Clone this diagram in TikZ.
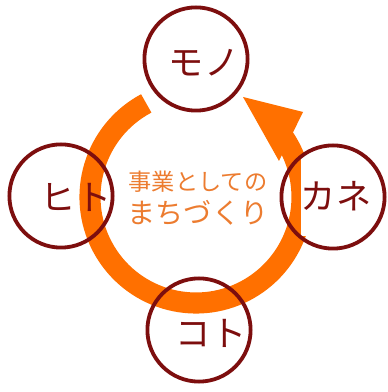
\documentclass[tikz,border=0pt]{standalone}
\usepackage{fontspec}
\usepackage{tikz}
\newfontfamily\jpfont{Noto Sans CJK JP}
\definecolor{ringred}{RGB}{125,14,14}
\definecolor{bandorange}{RGB}{255,112,0}
\definecolor{textorange}{RGB}{236,124,48}

\begin{document}
\begin{tikzpicture}[x=0.25mm, y=0.25mm,
		ring/.style={circle, draw=ringred, line width=2.7pt, minimum size=25.8mm, inner sep=0pt},
		kana/.style={font=\jpfont\fontsize{25}{25}\selectfont, text=ringred, inner sep=0pt},
		theme/.style={text=textorange, inner sep=0pt}]
			\useasboundingbox (0,0) rectangle (387,392);
			
			\draw[bandorange, line width=15pt] (196,195) ++(118:106) arc[start angle=118, end angle=396, radius=106];
			\fill[bandorange] (243,295) -- (303,280) -- (279,231) -- cycle;
			
			\node[kana] (monotext) at (204,329) {モノ};
			\node[kana] (hitotext) at (76,195) {ヒト};
			\node[kana, fill=white, minimum height=20mm] (kanetext) at (336,196) {カネ};
			\node[kana] (kototext) at (211,59) {コト};
			
			\foreach \name/\pos in {mono/{196,333}, hito/{61,196}, kane/{333,195}, koto/{199,62}}
				\node[ring] (\name) at (\pos) {};
			
			\node[theme, font=\jpfont\fontsize{16.5}{16.5}\selectfont] (jigyo) at (198,210) {事業としての};
			\node[theme, font=\jpfont\fontsize{20}{20}\selectfont] (machi) at (198,179) {まちづくり};
			
		\end{tikzpicture}
\end{document}
